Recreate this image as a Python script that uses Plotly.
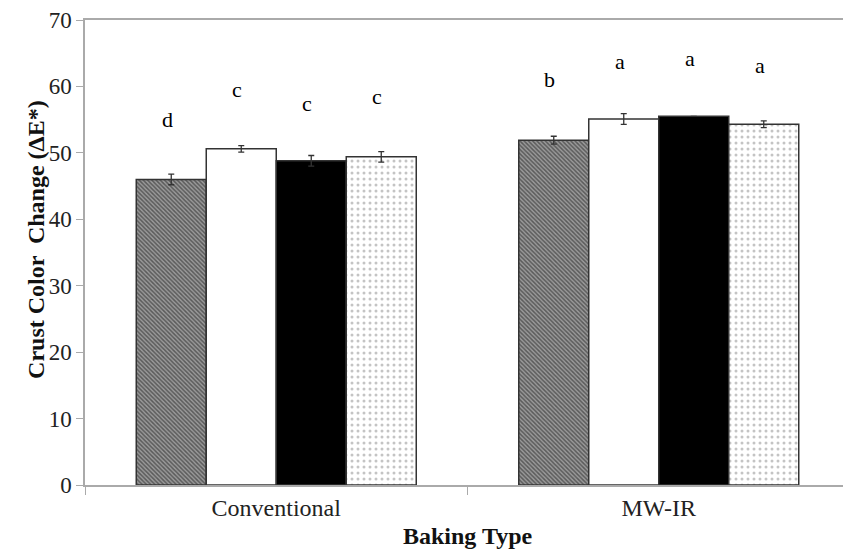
import plotly.graph_objects as go

categories = ["Conventional", "MW-IR"]
series_names = ["S1", "S2", "S3", "S4"]
values = [
    [46.0, 51.9],
    [50.6, 55.1],
    [48.8, 55.5],
    [49.4, 54.3],
]
errors = [
    [0.8, 0.6],
    [0.5, 0.8],
    [0.8, 0.0],
    [0.8, 0.5],
]
letters = [
    ["d", "b"],
    ["c", "a"],
    ["c", "a"],
    ["c", "a"],
]
letter_y = [
    [55.0, 61.0],
    [59.6, 63.7],
    [57.5, 64.2],
    [58.5, 63.2],
]
y_title = "Crust Color  Change (ΔE*)"
x_title = "Baking Type"

styles = [
    dict(color="#888888", pattern=dict(shape="\\", fgcolor="#1a1a1a", bgcolor="#9a9a9a", size=3, solidity=0.5)),
    dict(color="#ffffff"),
    dict(color="#000000"),
    dict(color="#ffffff", pattern=dict(shape=".", fgcolor="#8a8a8a", bgcolor="#ffffff", size=6, solidity=0.2)),
]

serif = "Liberation Serif"

fig = go.Figure()
for i, name in enumerate(series_names):
    fig.add_trace(go.Bar(
        x=categories, y=values[i], name=name,
        marker=dict(**styles[i], line=dict(color="#333333", width=1.5)),
        error_y=dict(type="data", array=errors[i], visible=True, color="#333333", thickness=1.3, width=3),
        showlegend=False,
    ))

bar_px = 70
for i in range(4):
    for j, cat in enumerate(categories):
        fig.add_annotation(
            x=cat, y=letter_y[i][j], text=letters[i][j], showarrow=False,
            xref="x", yref="y", xshift=(i - 1.5) * bar_px - 4,
            font=dict(family=serif, size=22, color="#000000"),
        )

# axis titles as annotations for exact placement
fig.add_annotation(
    text="<b>" + y_title + "</b>", xref="paper", yref="paper", x=0, y=0.527,
    xanchor="center", yanchor="middle", xshift=-49, textangle=-90, showarrow=False,
    font=dict(family=serif, size=24, color="#111111"),
)
fig.add_annotation(
    text="<b>" + x_title + "</b>", xref="paper", yref="paper", x=0.5, y=-0.142,
    xanchor="center", yanchor="bottom", showarrow=False,
    font=dict(family=serif, size=24, color="#111111"),
)

# page body has an 8px default margin, so the figure is 8px smaller
fig.update_layout(
    width=843, height=544,
    margin=dict(l=77, r=1, t=12, b=67, autoexpand=False),
    plot_bgcolor="white", paper_bgcolor="white",
    barmode="group", bargap=0.268, bargroupgap=0,
    font=dict(family=serif, size=24, color="#222222"),
)
fig.update_yaxes(
    range=[0, 70], dtick=10, showgrid=False, zeroline=False, automargin=False,
    showline=True, linecolor="#aaaaaa", linewidth=1.5, mirror=True,
    ticks="outside", ticklen=7, tickcolor="#aaaaaa",
    tickfont=dict(family=serif, size=23, color="#222222"),
)
fig.update_xaxes(
    showgrid=False, showline=True, linecolor="#aaaaaa", linewidth=1.5, mirror=True, automargin=False,
    ticks="outside", tickson="boundaries", ticklen=8, tickcolor="#aaaaaa",
    tickfont=dict(family=serif, size=24, color="#222222"),
)

fig.write_html("out.html")
